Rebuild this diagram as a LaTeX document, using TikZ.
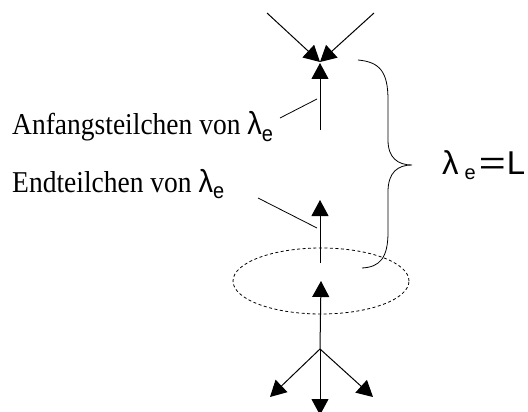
\documentclass[tikz,border=0pt]{standalone}
\usepackage{fontspec}
\setmainfont{Liberation Serif}
\newfontfamily\symfont{Liberation Sans}
\usetikzlibrary{arrows.meta, positioning, calc, shapes.geometric}
\newcommand{\lamsub}{{\symfont\fontsize{29}{30}\selectfont λ\raisebox{-6pt}{\fontsize{20}{20}\selectfont e}}}
\newcommand{\tallbox}[1]{\scalebox{1}[1.1]{#1}}

\begin{document}
\begin{tikzpicture}[
    x=1pt, y=-1pt,
    every node/.style={font=\fontsize{27.5}{30}\selectfont, inner sep=0pt},
    arrow/.style={-{Triangle[length=16pt, width=17pt]}, line width=1pt},
    pointer/.style={line width=0.8pt},
    orbit/.style={dash pattern=on 3pt off 2.5pt, line width=0.8pt},
    brace/.style={line width=0.8pt}
]
    \useasboundingbox (0,0) rectangle (528,412);

    % incoming pair and first vertex
    \coordinate (inL) at (267,13);
    \coordinate (inR) at (374,13);
    \coordinate (vtxTop) at (320,62);
    \coordinate (startA) at (320,130);
    \draw[arrow] (inL) -- (vtxTop);
    \draw[arrow] (inR) -- (vtxTop);
    \draw[arrow] (startA) -- (320,63);

    % second segment
    \coordinate (startB) at (320,263);
    \coordinate (tipB) at (320,200);
    \draw[arrow] (startB) -- (tipB);

    % orbit and outgoing particles
    \node[draw, orbit, ellipse, minimum width=176pt, minimum height=66pt] (ring) at (321,281) {};
    \coordinate (split) at (320,349);
    \draw[arrow] (split) -- (ring.center);
    \draw[arrow] (split) -- (270,397);
    \draw[arrow] (split) -- (373,397);
    \draw[arrow] (split) -- (320,415);

    % labels
    \node[anchor=base west] (anf) at (12,135) {\tallbox{Anfangsteilchen von \lamsub}};
    \node[anchor=base west] (endt) at (12,192) {\tallbox{Endteilchen von \lamsub}};
    \draw[pointer] (280,118) -- (317,99);
    \draw[pointer] (258,198) -- (317,228);

    % brace
    \draw[brace] (358,60) .. controls (380,62) and (388,72) .. (388,100)
        -- (388,140) .. controls (388,158) and (398,165) .. (412,165)
        .. controls (398,165) and (388,172) .. (388,192)
        -- (388,232) .. controls (388,258) and (380,267) .. (362,268);
    \node[anchor=base west, font=\fontsize{33}{34}\selectfont\symfont] (lam) at (442,175)
        {λ\hspace{6pt}\raisebox{-5pt}{\fontsize{20}{20}\selectfont e}\hspace{3pt}\scalebox{1.4}[1]{=}\hspace{1pt}L};
\end{tikzpicture}
\end{document}
